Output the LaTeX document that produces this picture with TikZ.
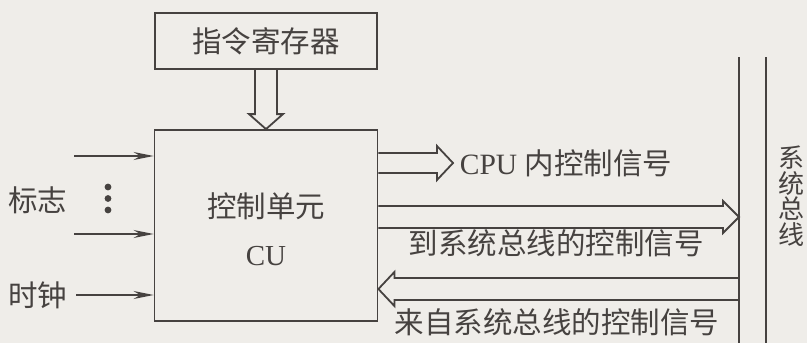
\documentclass[tikz,border=0pt]{standalone}
\usepackage{fontspec}
\setmainfont{Liberation Serif}
\newfontfamily\cjk{Noto Sans CJK SC}
\usepackage{tikz}
\usetikzlibrary{positioning,arrows.meta,calc}
\definecolor{paper}{RGB}{239,237,233}
\definecolor{ink}{RGB}{70,66,64}

\begin{document}
\begin{tikzpicture}[x=1pt, y=-1pt, line width=1.8pt, draw=ink,
    box/.style={draw=ink, line width=1.8pt, inner sep=0pt},
    lab/.style={font=\fontsize{29.5}{31}\selectfont\cjk, text=ink, inner sep=0pt},
    sig/.style={draw=ink, line width=1.6pt, -{Stealth[length=20pt, width=8pt]}},
    hollow/.style={draw=ink, line width=1.8pt, line join=miter}]
  \fill[paper] (0,0) rectangle (807,343);

  % boxes
  \node[box, minimum width=222pt, minimum height=56pt] (ir) at (266,41) {};
  \node[lab] (irname) at (ir.center) {指令寄存器};
  \node[box, minimum width=223pt, minimum height=191pt] (cu) at (266,225.5) {};
  \node[lab] (cuname) at (266,206) {控制单元};
  \node[lab, font=\fontsize{29}{30}\selectfont] (cuabbr) at (266,256) {CU};

  % inputs on the left
  \node[lab] (flag) at (38,200) {标志};
  \foreach \y in {187,198.5,210}
    \fill[ink] (108,\y) circle (3.4);
  \node[lab] (clk) at (38,295) {时钟};
  \coordinate (f1) at (74,156);
  \coordinate (f2) at (74,234);
  \draw[sig] (f1) -- (f1 -| cu.west);
  \draw[sig] (f2) -- (f2 -| cu.west);
  \draw[sig] ($(clk.east)+(8,0)$) -- (clk.east -| cu.west);

  % instruction register to CU
  \draw[hollow] ($(ir.south)+(-11,0)$) -- ($(cu.north)+(-11,-15)$) -- ($(cu.north)+(-17,-15)$)
    -- (cu.north) -- ($(cu.north)+(17,-15)$) -- ($(cu.north)+(11,-15)$) -- ($(ir.south)+(11,0)$);

  % system bus
  \coordinate (bus1) at (739,57);
  \coordinate (bus2) at (766,57);
  \draw[line width=1.8pt] (bus1) -- (bus1 |- 0,343);
  \draw[line width=1.8pt] (bus2) -- (bus2 |- 0,343);
  \node[lab, font=\fontsize{26}{25.5}\selectfont\cjk, align=center] (buslab) at (791,196) {系\\统\\总\\线};

  % CPU internal signals
  \coordinate (t1) at (453,163);
  \draw[hollow] ($(cu.east |- t1)+(0,-10)$) -- ($(t1)+(-16,-10)$) -- ($(t1)+(-16,-17)$)
    -- (t1) -- ($(t1)+(-16,17)$) -- ($(t1)+(-16,10)$) -- ($(cu.east |- t1)+(0,10)$);
  \node[lab, anchor=west] (inner) at (459,163) {\rmfamily CPU {\cjk 内控制信号}};

  % to system bus
  \coordinate (t2) at (bus1 |- 0,217);
  \draw[hollow] ($(cu.east |- t2)+(0,-11)$) -- ($(t2)+(-16,-11)$) -- ($(t2)+(-16,-16)$)
    -- (t2) -- ($(t2)+(-16,16)$) -- ($(t2)+(-16,11)$) -- ($(cu.east |- t2)+(0,11)$);
  \node[lab] (tobus) at (556,243) {到系统总线的控制信号};

  % from system bus
  \coordinate (t3) at (cu.east |- 0,289);
  \draw[hollow] ($(bus1 |- t3)+(0,-11)$) -- ($(t3)+(16,-11)$) -- ($(t3)+(16,-17)$)
    -- (t3) -- ($(t3)+(16,17)$) -- ($(t3)+(16,11)$) -- ($(bus1 |- t3)+(0,11)$);
  \node[lab] (frombus) at (557,322) {来自系统总线的控制信号};
\end{tikzpicture}
\end{document}
